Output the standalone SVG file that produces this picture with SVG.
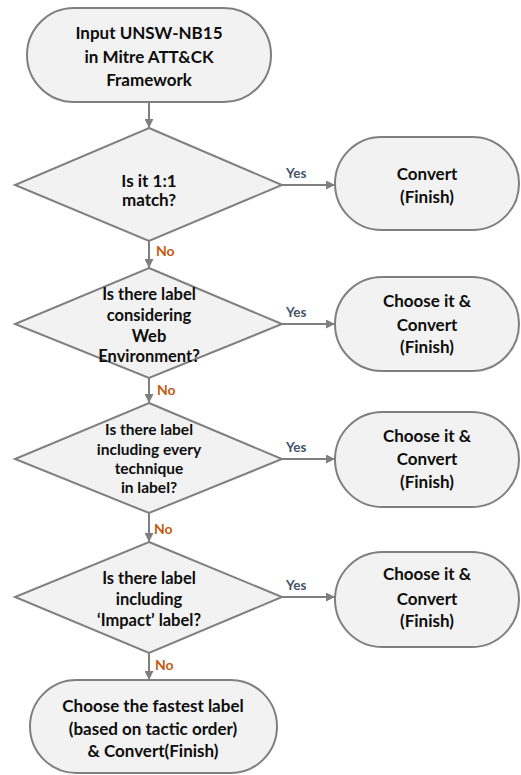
<svg xmlns="http://www.w3.org/2000/svg" width="521" height="775" viewBox="0 0 521 775">
<defs>
<marker id="ah" viewBox="0 0 10 10" refX="10" refY="5" markerWidth="10" markerHeight="9" markerUnits="userSpaceOnUse" orient="auto">
<path d="M0,0 L10,5 L0,10 z" fill="#7F7F7F"/>
</marker>
</defs>
<style>
.shape{fill:#F2F2F2;stroke:#7F7F7F;stroke-width:2}
.t{font-family:Lato,"Liberation Sans",sans-serif;font-weight:bold;font-size:17px;fill:#0D0D0D;text-anchor:middle}
.ts{font-size:15.5px}
.tm{font-size:16.5px}
.conn{stroke:#7F7F7F;stroke-width:2;fill:none;marker-end:url(#ah)}
.yes{font-family:Lato,"Liberation Sans",sans-serif;font-weight:bold;font-size:13.5px;fill:#44546A}
.no{font-family:Lato,"Liberation Sans",sans-serif;font-weight:bold;font-size:14px;fill:#C55A11}
</style>
<rect width="521" height="775" fill="#FFFFFF"/>
<g id="connectors">
<line class="conn" x1="149" y1="102" x2="149" y2="128"/>
<line class="conn" x1="149" y1="241" x2="149" y2="268"/>
<line class="conn" x1="149" y1="378" x2="149" y2="403"/>
<line class="conn" x1="149" y1="513" x2="149" y2="542"/>
<line class="conn" x1="149" y1="653" x2="149" y2="680"/>
<line class="conn" x1="282" y1="185" x2="335" y2="185"/>
<line class="conn" x1="282" y1="324" x2="335" y2="324"/>
<line class="conn" x1="282" y1="459" x2="335" y2="459"/>
<line class="conn" x1="282" y1="597" x2="335" y2="597"/>
<text class="no" x="156" y="256">No</text>
<text class="no" x="157" y="395">No</text>
<text class="no" x="154" y="534">No</text>
<text class="no" x="155" y="670">No</text>
<text class="yes" x="286" y="178">Yes</text>
<text class="yes" x="286" y="317">Yes</text>
<text class="yes" x="286" y="452">Yes</text>
<text class="yes" x="286" y="590">Yes</text>
</g>
<g id="start">
<rect class="shape" x="27" y="8" width="244" height="94" rx="47"/>
<text class="t" x="149" y="39">Input UNSW-NB15</text>
<text class="t" x="149" y="63">in Mitre ATT&amp;CK</text>
<text class="t" x="149" y="86">Framework</text>
</g>
<g id="d1">
<polygon class="shape" points="149,128 282,185 149,241 15,185"/>
<text class="t" x="149" y="187">Is it 1:1</text>
<text class="t" x="149" y="206">match?</text>
</g>
<g id="r1">
<rect class="shape" x="335" y="137" width="184" height="93" rx="46.5"/>
<text class="t" x="427" y="180">Convert</text>
<text class="t" x="427" y="203">(Finish)</text>
</g>
<g id="d2">
<polygon class="shape" points="149,268 282,324 149,378 15,324"/>
<text class="t tm" x="149" y="300">Is there label</text>
<text class="t tm" x="149" y="321">considering</text>
<text class="t tm" x="149" y="342">Web</text>
<text class="t tm" x="149" y="362">Environment?</text>
</g>
<g id="r2">
<rect class="shape" x="335" y="277" width="184" height="94" rx="47"/>
<text class="t" x="427" y="307">Choose it &amp;</text>
<text class="t" x="427" y="331">Convert</text>
<text class="t" x="427" y="353">(Finish)</text>
</g>
<g id="d3">
<polygon class="shape" points="149,403 282,459 149,513 15,459"/>
<text class="t ts" x="149" y="435">Is there label</text>
<text class="t ts" x="149" y="455">including every</text>
<text class="t ts" x="149" y="474">technique</text>
<text class="t ts" x="149" y="493">in label?</text>
</g>
<g id="r3">
<rect class="shape" x="335" y="412" width="184" height="95" rx="47.5"/>
<text class="t" x="427" y="442">Choose it &amp;</text>
<text class="t" x="427" y="465">Convert</text>
<text class="t" x="427" y="488">(Finish)</text>
</g>
<g id="d4">
<polygon class="shape" points="149,542 282,597 149,653 15,597"/>
<text class="t tm" x="149" y="584">Is there label</text>
<text class="t tm" x="149" y="605">including</text>
<text class="t tm" x="149" y="626">‘Impact’ label?</text>
</g>
<g id="r4">
<rect class="shape" x="335" y="552" width="184" height="95" rx="47.5"/>
<text class="t" x="427" y="580">Choose it &amp;</text>
<text class="t" x="427" y="605">Convert</text>
<text class="t" x="427" y="627">(Finish)</text>
</g>
<g id="end">
<rect class="shape" x="30" y="680" width="247" height="93" rx="46.5"/>
<text class="t" x="153" y="712">Choose the fastest label</text>
<text class="t" x="153" y="735">(based on tactic order)</text>
<text class="t" x="153" y="757">&amp; Convert(Finish)</text>
</g>
</svg>
